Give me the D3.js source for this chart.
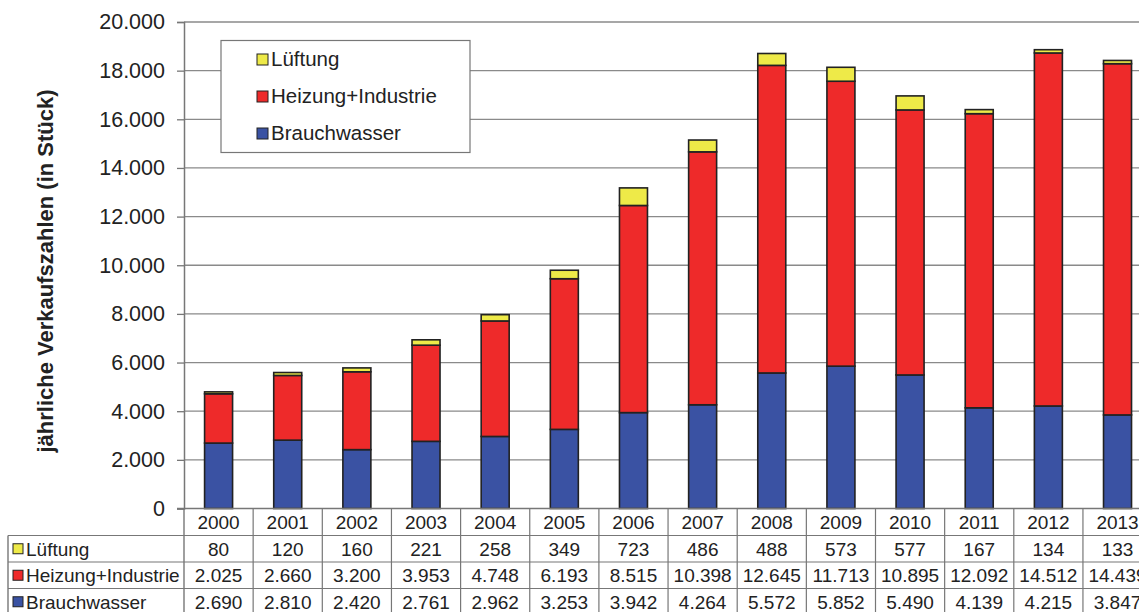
<!DOCTYPE html>
<html>
<head>
<meta charset="utf-8">
<script src="https://cdn.jsdelivr.net/npm/d3@7"></script>
<style>
  body { margin: 0; background: #fff; }
  svg { display: block; font-family: "Liberation Sans", Arial, sans-serif; }
</style>
</head>
<body>
<div id="chart"></div>
<script>
// Daten aus der Tabelle unter dem Diagramm
var jahre = ["2000","2001","2002","2003","2004","2005","2006","2007","2008","2009","2010","2011","2012","2013"];
var lueftung = [80, 120, 160, 221, 258, 349, 723, 486, 488, 573, 577, 167, 134, 133];
var heizung = [2025, 2660, 3200, 3953, 4748, 6193, 8515, 10398, 12645, 11713, 10895, 12092, 14512, 14439];
var brauchwasser = [2690, 2810, 2420, 2761, 2962, 3253, 3942, 4264, 5572, 5852, 5490, 4139, 4215, 3847];
var yTicks = [0, 2000, 4000, 6000, 8000, 10000, 12000, 14000, 16000, 18000, 20000];

var serien = [
  {key: "brauchwasser", name: "Brauchwasser", color: "#3a52a3", values: brauchwasser},
  {key: "heizung", name: "Heizung+Industrie", color: "#ee2a2a", values: heizung},
  {key: "lueftung", name: "Lüftung", color: "#eeea48", values: lueftung}
];

var W = 1139, H = 612;
// Plotbereich (geht rechts über das Fenster hinaus, wie im Original)
var plotL = 184, plotT = 22, plotB = 508.5, plotR = 184 + 14 * 69.15;

var svg = d3.select("#chart").append("svg")
  .attr("width", W).attr("height", H);

var fmt = function(v) { return d3.format(",")(v).replace(/,/g, "."); };

var x = d3.scaleBand().domain(jahre).range([plotL, plotR]).paddingInner(0).paddingOuter(0);
var y = d3.scaleLinear().domain([0, 20000]).range([plotB, plotT]);

// Gitternetz
svg.append("g").selectAll("line")
  .data(yTicks.filter(function(d) { return d > 0; }))
  .join("line")
  .attr("x1", plotL).attr("x2", W)
  .attr("y1", function(d) { return y(d); }).attr("y2", function(d) { return y(d); })
  .attr("stroke", "#8a8a8a").attr("stroke-width", 1.3);

// Y-Achse
var yAxis = svg.append("g")
  .attr("transform", "translate(" + plotL + ",0)")
  .call(d3.axisLeft(y).tickValues(yTicks).tickFormat(fmt).tickSize(7).tickPadding(12));
yAxis.select(".domain").attr("stroke", "#777").attr("stroke-width", 1.5);
yAxis.selectAll(".tick line").attr("stroke", "#777").attr("stroke-width", 1.3);
yAxis.selectAll(".tick text").attr("font-size", 21.5).attr("fill", "#222")
  .attr("font-family", "Liberation Sans, Arial, sans-serif");

svg.append("text")
  .attr("transform", "translate(45,271) rotate(-90)")
  .attr("text-anchor", "middle").attr("dy", "0.36em")
  .attr("font-size", 22).attr("font-weight", "bold").attr("fill", "#222")
  .text("jährliche Verkaufszahlen (in Stück)");

// gestapelte Balken
var tabelle = jahre.map(function(j, i) {
  var o = {jahr: j};
  serien.forEach(function(s) { o[s.key] = s.values[i]; });
  return o;
});
var stack = d3.stack().keys(serien.map(function(s) { return s.key; }))(tabelle);
var barW = 28;

svg.append("g").selectAll("g")
  .data(stack)
  .join("g")
  .attr("fill", function(d, i) { return serien[i].color; })
  .selectAll("rect")
  .data(function(d) { return d; })
  .join("rect")
  .attr("x", function(d) { return x(d.data.jahr) + x.bandwidth() / 2 - barW / 2; })
  .attr("width", barW)
  .attr("y", function(d) { return y(d[1]); })
  .attr("height", function(d) { return y(d[0]) - y(d[1]); })
  .attr("stroke", "#222").attr("stroke-width", 1.6);

// Nulllinie
svg.append("line")
  .attr("x1", plotL - 7).attr("x2", W)
  .attr("y1", plotB).attr("y2", plotB)
  .attr("stroke", "#777").attr("stroke-width", 1.5);

// Legende
var leg = svg.append("g");
leg.append("rect").attr("x", 221).attr("y", 40.5).attr("width", 249).attr("height", 112)
  .attr("fill", "#fff").attr("stroke", "#777").attr("stroke-width", 1.2);
serien.slice().reverse().forEach(function(s, i) {
  var yy = 59 + i * 37;
  leg.append("rect").attr("x", 257).attr("y", yy - 5).attr("width", 11).attr("height", 11)
    .attr("fill", s.color).attr("stroke", "#222").attr("stroke-width", 1);
  leg.append("text").attr("x", 271).attr("y", yy).attr("dy", "0.36em")
    .attr("font-size", 20.5).attr("fill", "#222").text(s.name);
});

// Datentabelle
var rowTop = 535.5, rowH = 26.5;
var tab = svg.append("g");
var gridCol = "#777";
var fs = 19;
// Kopfzeile
jahre.forEach(function(j) {
  tab.append("text").attr("x", x(j) + x.bandwidth() / 2).attr("y", (plotB + rowTop) / 2)
    .attr("dy", "0.36em").attr("text-anchor", "middle")
    .attr("font-size", fs).attr("fill", "#222").text(j);
});
// vertikale Linien
jahre.forEach(function(j, i) {
  if (i === 0) return;
  tab.append("line").attr("x1", x(j)).attr("x2", x(j))
    .attr("y1", plotB).attr("y2", H)
    .attr("stroke", gridCol).attr("stroke-width", 1.2);
});
tab.append("line").attr("x1", plotL).attr("x2", plotL).attr("y1", plotB).attr("y2", H)
  .attr("stroke", gridCol).attr("stroke-width", 1.4);
tab.append("line").attr("x1", 8).attr("x2", 8).attr("y1", rowTop).attr("y2", H)
  .attr("stroke", gridCol).attr("stroke-width", 1.4);
// horizontale Linien
[0, 1, 2].forEach(function(r) {
  tab.append("line").attr("x1", 8).attr("x2", W)
    .attr("y1", rowTop + r * rowH).attr("y2", rowTop + r * rowH)
    .attr("stroke", gridCol).attr("stroke-width", 1.2);
});
serien.slice().reverse().forEach(function(s, r) {
  var cy = rowTop + r * rowH + rowH / 2;
  tab.append("rect").attr("x", 13).attr("y", cy - 5).attr("width", 10).attr("height", 10)
    .attr("fill", s.color).attr("stroke", "#222").attr("stroke-width", 1);
  tab.append("text").attr("x", 26).attr("y", cy).attr("dy", "0.36em")
    .attr("font-size", fs).attr("fill", "#222").text(s.name);
  s.values.forEach(function(v, i) {
    tab.append("text").attr("x", x(jahre[i]) + x.bandwidth() / 2).attr("y", cy)
      .attr("dy", "0.36em").attr("text-anchor", "middle")
      .attr("font-size", fs).attr("fill", "#222").text(fmt(v));
  });
});
</script>
</body>
</html>
